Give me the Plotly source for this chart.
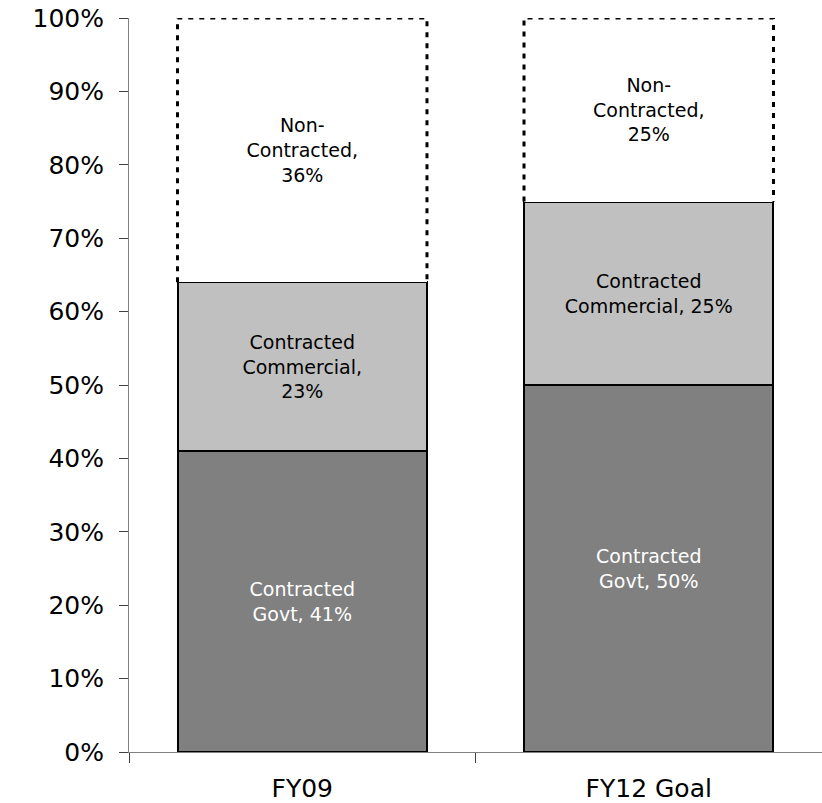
import plotly.graph_objects as go

categories = ["FY09", "FY12 Goal"]
govt = [41, 50]
commercial = [23, 25]
non_contracted = [36, 25]
govt_labels = ["Contracted<br>Govt, 41%", "Contracted<br>Govt, 50%"]
commercial_labels = ["Contracted<br>Commercial,<br>23%", "Contracted<br>Commercial, 25%"]
non_labels = ["Non-<br>Contracted,<br>36%", "Non-<br>Contracted,<br>25%"]
y_ticks = list(range(0, 101, 10))
y_tick_text = [f"{v}%" for v in y_ticks]

BAR_W = 0.72
FONT = "DejaVu Sans"
LBL = 19

fig = go.Figure()
fig.add_trace(go.Bar(
    x=categories, y=govt, width=BAR_W, text=govt_labels,
    marker=dict(color="#808080", line=dict(color="black", width=2)),
    textposition="inside", insidetextanchor="middle",
    textfont=dict(color="white", size=LBL, family=FONT), name="Govt"))
fig.add_trace(go.Bar(
    x=categories, y=commercial, width=BAR_W, text=commercial_labels,
    marker=dict(color="#C0C0C0", line=dict(color="black", width=2)),
    textposition="inside", insidetextanchor="middle",
    textfont=dict(color="black", size=LBL, family=FONT), name="Commercial"))
fig.add_trace(go.Bar(
    x=categories, y=non_contracted, width=BAR_W, text=non_labels,
    marker=dict(color="white", line=dict(color="white", width=0)),
    textposition="inside", insidetextanchor="middle",
    textfont=dict(color="black", size=LBL, family=FONT), name="Non-Contracted"))

# dotted outline of the non-contracted segments, on an overlaid numeric axis
ox, oy = [], []
for i in range(len(categories)):
    base = govt[i] + commercial[i]
    top = base + non_contracted[i]
    ox += [i - BAR_W / 2, i - BAR_W / 2, i + BAR_W / 2, i + BAR_W / 2, None]
    oy += [base, top, top, base, None]
fig.add_trace(go.Scatter(
    x=ox, y=oy, xaxis="x2", mode="lines", hoverinfo="skip",
    line=dict(color="black", width=3, dash="5px,6px"), showlegend=False))

fig.update_layout(
    barmode="stack",
    width=822, height=803,
    margin=dict(l=129, r=0, t=18, b=51),
    paper_bgcolor="white", plot_bgcolor="white",
    showlegend=False,
    font=dict(family=FONT, color="black", size=25),
    xaxis=dict(
        type="category", range=[-0.5, 1.5], tickson="boundaries",
        ticks="outside", ticklen=10, tickcolor="#404040",
        showline=True, linecolor="#808080", linewidth=1,
        showgrid=False, automargin=False,
        tickfont=dict(size=25, family=FONT, color="black"),
        ticklabelstandoff=14),
    xaxis2=dict(overlaying="x", range=[-0.5, 1.5], visible=False),
    yaxis=dict(
        range=[0, 100], tickmode="array", tickvals=y_ticks, ticktext=y_tick_text,
        ticks="outside", ticklen=9, tickcolor="#404040",
        showline=True, linecolor="#808080", linewidth=1,
        showgrid=False, zeroline=False, automargin=False,
        ticklabeloverflow="allow",
        tickfont=dict(size=25, family=FONT, color="black"),
        ticklabelstandoff=10),
)

fig.write_html("out.html", config={"displayModeBar": False},
               post_script="document.body.style.margin='0';")
